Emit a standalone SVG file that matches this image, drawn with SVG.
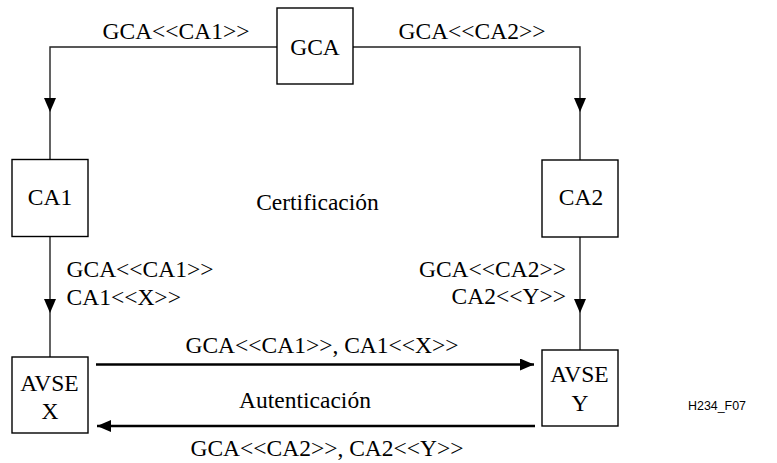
<svg xmlns="http://www.w3.org/2000/svg" width="777" height="463" viewBox="0 0 777 463">
<style>
.box{fill:#fff;stroke:#000;stroke-width:1.4}
.t{font-family:"Liberation Serif","Times New Roman",serif;font-size:23.5px;fill:#000}
.m{text-anchor:middle}
.e{text-anchor:end}
.ln{fill:none;stroke:#222;stroke-width:1.4}
.hv{fill:none;stroke:#000;stroke-width:2.6}
.s{font-family:"Liberation Sans",Arial,sans-serif;font-size:13.5px;fill:#000}
</style>
<defs>
<marker id="ah" markerUnits="userSpaceOnUse" markerWidth="14" markerHeight="12" refX="14" refY="6" orient="auto">
<path d="M0,0 L14,6 L0,12 z" fill="#000"/>
</marker>
</defs>
<rect width="777" height="463" fill="#fff"/>
<g id="connectors">
<path class="ln" d="M277,47 H50 V112" marker-end="url(#ah)"/>
<path class="ln" d="M50,112 V159"/>
<path class="ln" d="M353,47 H580 V112" marker-end="url(#ah)"/>
<path class="ln" d="M580,112 V160"/>
<path class="ln" d="M50,236 V313" marker-end="url(#ah)"/>
<path class="ln" d="M50,313 V357"/>
<path class="ln" d="M580,237 V313" marker-end="url(#ah)"/>
<path class="ln" d="M580,313 V350"/>
<path class="hv" d="M96,364.5 H534" marker-end="url(#ah)"/>
<path class="hv" d="M535,426 H97" marker-end="url(#ah)"/>
<text class="t m" x="176" y="38.5">GCA&lt;&lt;CA1&gt;&gt;</text>
<text class="t m" x="472" y="38.5">GCA&lt;&lt;CA2&gt;&gt;</text>
<text class="t" x="66.5" y="277">GCA&lt;&lt;CA1&gt;&gt;</text>
<text class="t" x="66.5" y="304.5">CA1&lt;&lt;X&gt;&gt;</text>
<text class="t e" x="566" y="277">GCA&lt;&lt;CA2&gt;&gt;</text>
<text class="t e" x="566" y="304">CA2&lt;&lt;Y&gt;&gt;</text>
<text class="t m" x="322" y="353">GCA&lt;&lt;CA1&gt;&gt;, CA1&lt;&lt;X&gt;&gt;</text>
<text class="t m" x="327" y="456">GCA&lt;&lt;CA2&gt;&gt;, CA2&lt;&lt;Y&gt;&gt;</text>
</g>
<g id="gca">
<rect class="box" x="277" y="8" width="76" height="76"/>
<text class="t m" x="315" y="55">GCA</text>
</g>
<g id="ca1">
<rect class="box" x="12" y="159.5" width="76" height="77"/>
<text class="t m" x="50" y="205">CA1</text>
</g>
<g id="ca2">
<rect class="box" x="542" y="160" width="76" height="77"/>
<text class="t m" x="581" y="205">CA2</text>
</g>
<g id="avse-x">
<rect class="box" x="12" y="357" width="76" height="76"/>
<text class="t m" x="49.5" y="390.5">AVSE</text>
<text class="t m" x="50" y="419">X</text>
</g>
<g id="avse-y">
<rect class="box" x="542" y="350" width="76" height="76"/>
<text class="t m" x="579.5" y="382">AVSE</text>
<text class="t m" x="580" y="410.5">Y</text>
</g>
<g id="labels">
<text class="t m" x="317.5" y="210">Certificación</text>
<text class="t m" x="305" y="408">Autenticación</text>
<text class="s" x="688" y="410" textLength="58" lengthAdjust="spacingAndGlyphs">H234_F07</text>
</g>
</svg>
